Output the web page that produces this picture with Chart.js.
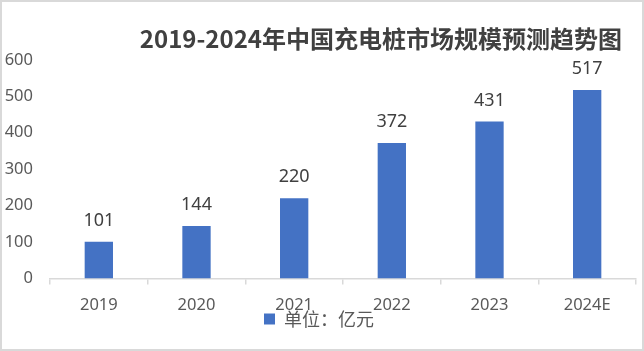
<!DOCTYPE html>
<html lang="zh">
<head>
  <meta charset="UTF-8" />
  <title>2019-2024年中国充电桩市场规模预测趋势图</title>
  <script src="https://cdn.jsdelivr.net/npm/chart.js"></script>
  <style>
    html, body { margin: 0; padding: 0; background: #fff; }
    .frame {
      width: 644px;
      height: 351px;
      box-sizing: border-box;
      border: 2px solid #d9d9d9;
      background: #fff;
    }
    canvas { display: block; }
  </style>
</head>
<body>
  <div class="frame">
    <canvas id="marketChart" width="640" height="347"></canvas>
  </div>

  <script>
    // chart data
    const years = ['2019', '2020', '2021', '2022', '2023', '2024E'];
    const marketSize = [101, 144, 220, 372, 431, 517];
    const yTicks = [0, 100, 200, 300, 400, 500, 600];
    const seriesName = '单位：亿元';
    const chartTitle = '2019-2024年中国充电桩市场规模预测趋势图';

    const latinFont = "'Noto Sans', 'Noto Sans CJK SC', sans-serif";
    const cjkFont = "'Noto Sans CJK SC', sans-serif";

    // value labels above each bar
    const barLabels = {
      id: 'barLabels',
      afterDatasetsDraw(chart) {
        const ctx = chart.ctx;
        const meta = chart.getDatasetMeta(0);
        ctx.save();
        ctx.fillStyle = '#404040';
        ctx.font = "18px " + latinFont;
        ctx.textAlign = 'center';
        ctx.textBaseline = 'middle';
        meta.data.forEach((bar, i) => {
          ctx.fillText(String(marketSize[i]), bar.x, bar.y - 21);
        });
        ctx.restore();
      }
    };

    // title pulled in from the right edge; x box grown back so year labels aren't clipped
    const layoutTweaks = {
      id: 'layoutTweaks',
      afterLayout(chart) {
        if (chart.titleBlock) chart.titleBlock.right = chart.width - 20;
        chart.scales.x.bottom += 24;
      }
    };

    const ctx = document.getElementById('marketChart').getContext('2d');

    new Chart(ctx, {
      type: 'bar',
      data: {
        labels: years,
        datasets: [{
          label: seriesName,
          data: marketSize,
          backgroundColor: '#4472c4',
          borderWidth: 0,
          categoryPercentage: 1,
          barPercentage: 0.29
        }]
      },
      options: {
        responsive: false,
        animation: false,
        devicePixelRatio: 1,
        layout: { padding: { left: 0, right: 6, top: 0, bottom: 11 } },
        plugins: {
          title: {
            display: true,
            text: chartTitle,
            align: 'end',
            color: '#404040',
            font: { family: cjkFont, size: 24, weight: 'bold' },
            padding: { top: 22, bottom: 7 }
          },
          legend: {
            position: 'bottom',
            labels: {
              color: '#595959',
              boxWidth: 11,
              boxHeight: 11,
              padding: 2,
              font: { family: cjkFont, size: 18, lineHeight: 1 }
            }
          },
          tooltip: { enabled: false }
        },
        scales: {
          x: {
            // legend sits tight under the year labels, so shrink this box
            afterFit(axis) {
              axis.height -= 19;
            },
            grid: {
              display: true,
              drawOnChartArea: false,
              drawTicks: true,
              tickLength: 6,
              color: '#d9d9d9',
              lineWidth: 1.5
            },
            border: { display: true, color: '#d9d9d9', width: 1.5 },
            ticks: {
              color: '#595959',
              padding: 13,
              font: { family: latinFont, size: 16.5, lineHeight: 1 }
            }
          },
          y: {
            min: 0,
            max: yTicks[yTicks.length - 1],
            afterBuildTicks(axis) {
              axis.ticks = yTicks.map(v => ({ value: v }));
            },
            afterFit(axis) {
              axis.width = 48;
            },
            grid: { display: false, drawTicks: false },
            border: { display: false },
            ticks: {
              color: '#595959',
              padding: 17,
              font: { family: latinFont, size: 16.5 }
            }
          }
        }
      },
      plugins: [barLabels, layoutTweaks]
    });
  </script>
</body>
</html>
